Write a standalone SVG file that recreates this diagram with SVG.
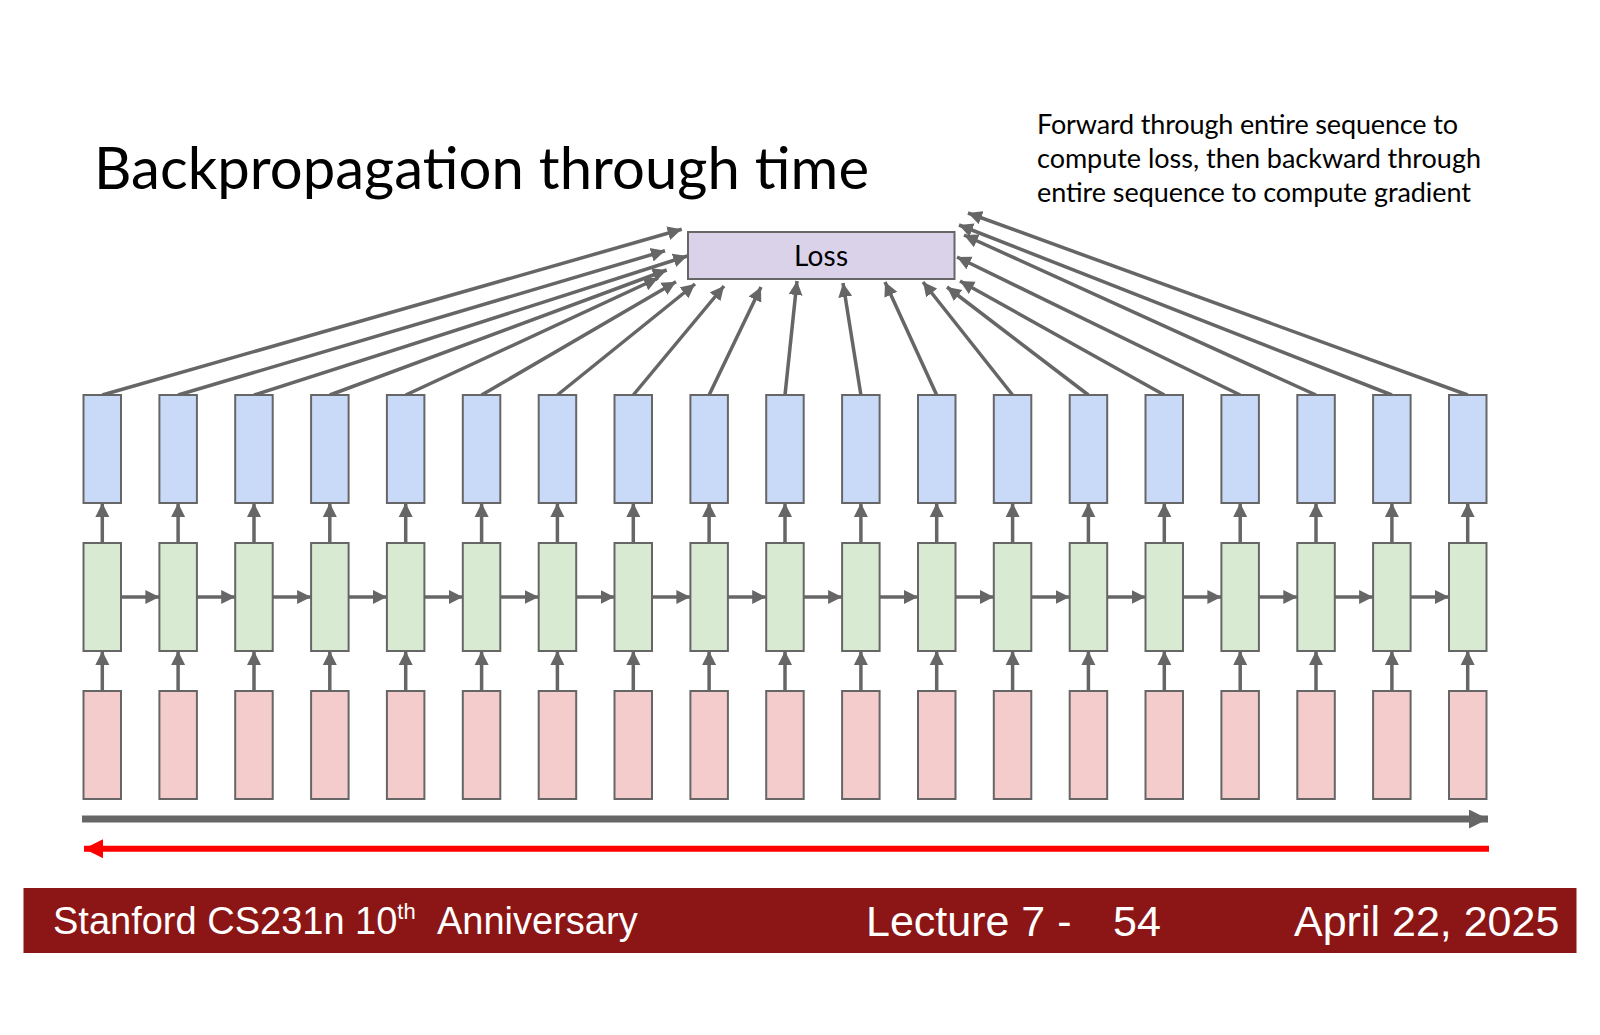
<svg xmlns="http://www.w3.org/2000/svg" width="1600" height="1035" viewBox="0 0 1600 1035">
<style>
.b{fill:#c9daf8;stroke:#666;stroke-width:2}
.g{fill:#d9ead3;stroke:#666;stroke-width:2}
.r{fill:#f4cccc;stroke:#666;stroke-width:2}
#connectors line.c{stroke:#666;stroke-width:3.5;fill:none;marker-end:url(#ah)}
.ss{font-family:Lato,"Open Sans","Noto Sans",sans-serif;fill:#000}
.ft{font-family:"Liberation Sans",Arial,sans-serif;fill:#fff}
</style>
<defs>
<marker id="ah" markerUnits="userSpaceOnUse" markerWidth="15" markerHeight="15" refX="14" refY="7.5" orient="auto"><path d="M0,0.5 L14,7.5 L0,14.5 z" fill="#666"/></marker>
<marker id="big" markerUnits="userSpaceOnUse" markerWidth="20" markerHeight="20" refX="19" refY="9.5" orient="auto"><path d="M0,0 L19,9.5 L0,19 z" fill="#666"/></marker>
<marker id="bigr" markerUnits="userSpaceOnUse" markerWidth="20" markerHeight="20" refX="19" refY="9.5" orient="auto"><path d="M0,0 L19,9.5 L0,19 z" fill="#f00"/></marker>
</defs>
<rect width="1600" height="1035" fill="#fff"/>
<text class="ss" x="94" y="189" font-size="58" textLength="775">Backpropagation through time</text>
<text class="ss" font-size="27"><tspan x="1037" y="134" textLength="421">Forward through entire sequence to</tspan><tspan x="1037" y="168" textLength="444">compute loss, then backward through</tspan><tspan x="1037" y="202" textLength="434">entire sequence to compute gradient</tspan></text>

<g id="connectors">
<line class="c" x1="102.3" y1="395" x2="681.7" y2="229.3"/>
<line class="c" x1="178.1" y1="395" x2="665" y2="250.7"/>
<line class="c" x1="254" y1="395" x2="687.3" y2="256"/>
<line class="c" x1="329.8" y1="395" x2="666.7" y2="270"/>
<line class="c" x1="405.7" y1="395" x2="658" y2="278"/>
<line class="c" x1="481.6" y1="395" x2="676" y2="281.7"/>
<line class="c" x1="557.4" y1="395" x2="695" y2="284"/>
<line class="c" x1="633.3" y1="395" x2="724" y2="286"/>
<line class="c" x1="709.1" y1="395" x2="761" y2="287"/>
<line class="c" x1="785" y1="395" x2="797" y2="281"/>
<line class="c" x1="860.9" y1="395" x2="843" y2="283"/>
<line class="c" x1="936.7" y1="395" x2="885" y2="282"/>
<line class="c" x1="1012.6" y1="395" x2="923" y2="282"/>
<line class="c" x1="1088.4" y1="395" x2="947" y2="287"/>
<line class="c" x1="1164.3" y1="395" x2="960" y2="281"/>
<line class="c" x1="1240.2" y1="395" x2="957" y2="257"/>
<line class="c" x1="1316" y1="395" x2="964" y2="235"/>
<line class="c" x1="1391.9" y1="395" x2="959" y2="225"/>
<line class="c" x1="1467.7" y1="395" x2="968" y2="213"/>

<line class="c" x1="102.3" y1="691" x2="102.3" y2="651"/>
<line class="c" x1="178.1" y1="691" x2="178.1" y2="651"/>
<line class="c" x1="254" y1="691" x2="254" y2="651"/>
<line class="c" x1="329.8" y1="691" x2="329.8" y2="651"/>
<line class="c" x1="405.7" y1="691" x2="405.7" y2="651"/>
<line class="c" x1="481.6" y1="691" x2="481.6" y2="651"/>
<line class="c" x1="557.4" y1="691" x2="557.4" y2="651"/>
<line class="c" x1="633.3" y1="691" x2="633.3" y2="651"/>
<line class="c" x1="709.1" y1="691" x2="709.1" y2="651"/>
<line class="c" x1="785" y1="691" x2="785" y2="651"/>
<line class="c" x1="860.9" y1="691" x2="860.9" y2="651"/>
<line class="c" x1="936.7" y1="691" x2="936.7" y2="651"/>
<line class="c" x1="1012.6" y1="691" x2="1012.6" y2="651"/>
<line class="c" x1="1088.4" y1="691" x2="1088.4" y2="651"/>
<line class="c" x1="1164.3" y1="691" x2="1164.3" y2="651"/>
<line class="c" x1="1240.2" y1="691" x2="1240.2" y2="651"/>
<line class="c" x1="1316" y1="691" x2="1316" y2="651"/>
<line class="c" x1="1391.9" y1="691" x2="1391.9" y2="651"/>
<line class="c" x1="1467.7" y1="691" x2="1467.7" y2="651"/>

<line class="c" x1="102.3" y1="543" x2="102.3" y2="503"/>
<line class="c" x1="178.1" y1="543" x2="178.1" y2="503"/>
<line class="c" x1="254" y1="543" x2="254" y2="503"/>
<line class="c" x1="329.8" y1="543" x2="329.8" y2="503"/>
<line class="c" x1="405.7" y1="543" x2="405.7" y2="503"/>
<line class="c" x1="481.6" y1="543" x2="481.6" y2="503"/>
<line class="c" x1="557.4" y1="543" x2="557.4" y2="503"/>
<line class="c" x1="633.3" y1="543" x2="633.3" y2="503"/>
<line class="c" x1="709.1" y1="543" x2="709.1" y2="503"/>
<line class="c" x1="785" y1="543" x2="785" y2="503"/>
<line class="c" x1="860.9" y1="543" x2="860.9" y2="503"/>
<line class="c" x1="936.7" y1="543" x2="936.7" y2="503"/>
<line class="c" x1="1012.6" y1="543" x2="1012.6" y2="503"/>
<line class="c" x1="1088.4" y1="543" x2="1088.4" y2="503"/>
<line class="c" x1="1164.3" y1="543" x2="1164.3" y2="503"/>
<line class="c" x1="1240.2" y1="543" x2="1240.2" y2="503"/>
<line class="c" x1="1316" y1="543" x2="1316" y2="503"/>
<line class="c" x1="1391.9" y1="543" x2="1391.9" y2="503"/>
<line class="c" x1="1467.7" y1="543" x2="1467.7" y2="503"/>

<line class="c" x1="121" y1="597" x2="159.4" y2="597"/>
<line class="c" x1="196.9" y1="597" x2="235.2" y2="597"/>
<line class="c" x1="272.7" y1="597" x2="311.1" y2="597"/>
<line class="c" x1="348.6" y1="597" x2="386.9" y2="597"/>
<line class="c" x1="424.4" y1="597" x2="462.8" y2="597"/>
<line class="c" x1="500.3" y1="597" x2="538.7" y2="597"/>
<line class="c" x1="576.2" y1="597" x2="614.5" y2="597"/>
<line class="c" x1="652" y1="597" x2="690.4" y2="597"/>
<line class="c" x1="727.9" y1="597" x2="766.2" y2="597"/>
<line class="c" x1="803.7" y1="597" x2="842.1" y2="597"/>
<line class="c" x1="879.6" y1="597" x2="918" y2="597"/>
<line class="c" x1="955.5" y1="597" x2="993.8" y2="597"/>
<line class="c" x1="1031.3" y1="597" x2="1069.7" y2="597"/>
<line class="c" x1="1107.2" y1="597" x2="1145.5" y2="597"/>
<line class="c" x1="1183" y1="597" x2="1221.4" y2="597"/>
<line class="c" x1="1258.9" y1="597" x2="1297.3" y2="597"/>
<line class="c" x1="1334.8" y1="597" x2="1373.1" y2="597"/>
<line class="c" x1="1410.6" y1="597" x2="1449" y2="597"/>

<line x1="82" y1="819" x2="1488" y2="819" stroke="#666" stroke-width="7" marker-end="url(#big)"/>
<line x1="1489" y1="848.7" x2="84" y2="848.7" stroke="#f00" stroke-width="6" marker-end="url(#bigr)"/>
</g>

<g id="loss"><rect x="688" y="232" width="266.5" height="47" fill="#d9d2e9" stroke="#666" stroke-width="2"/><text class="ss" x="794" y="266" font-size="28" textLength="54">Loss</text></g>

<g id="outputs">
<rect id="y1" class="b" x="83.5" y="395" width="37.5" height="108"/>
<rect id="y2" class="b" x="159.4" y="395" width="37.5" height="108"/>
<rect id="y3" class="b" x="235.2" y="395" width="37.5" height="108"/>
<rect id="y4" class="b" x="311.1" y="395" width="37.5" height="108"/>
<rect id="y5" class="b" x="386.9" y="395" width="37.5" height="108"/>
<rect id="y6" class="b" x="462.8" y="395" width="37.5" height="108"/>
<rect id="y7" class="b" x="538.7" y="395" width="37.5" height="108"/>
<rect id="y8" class="b" x="614.5" y="395" width="37.5" height="108"/>
<rect id="y9" class="b" x="690.4" y="395" width="37.5" height="108"/>
<rect id="y10" class="b" x="766.2" y="395" width="37.5" height="108"/>
<rect id="y11" class="b" x="842.1" y="395" width="37.5" height="108"/>
<rect id="y12" class="b" x="918" y="395" width="37.5" height="108"/>
<rect id="y13" class="b" x="993.8" y="395" width="37.5" height="108"/>
<rect id="y14" class="b" x="1069.7" y="395" width="37.5" height="108"/>
<rect id="y15" class="b" x="1145.5" y="395" width="37.5" height="108"/>
<rect id="y16" class="b" x="1221.4" y="395" width="37.5" height="108"/>
<rect id="y17" class="b" x="1297.3" y="395" width="37.5" height="108"/>
<rect id="y18" class="b" x="1373.1" y="395" width="37.5" height="108"/>
<rect id="y19" class="b" x="1449" y="395" width="37.5" height="108"/>
</g>
<g id="hidden">
<rect id="h1" class="g" x="83.5" y="543" width="37.5" height="108"/>
<rect id="h2" class="g" x="159.4" y="543" width="37.5" height="108"/>
<rect id="h3" class="g" x="235.2" y="543" width="37.5" height="108"/>
<rect id="h4" class="g" x="311.1" y="543" width="37.5" height="108"/>
<rect id="h5" class="g" x="386.9" y="543" width="37.5" height="108"/>
<rect id="h6" class="g" x="462.8" y="543" width="37.5" height="108"/>
<rect id="h7" class="g" x="538.7" y="543" width="37.5" height="108"/>
<rect id="h8" class="g" x="614.5" y="543" width="37.5" height="108"/>
<rect id="h9" class="g" x="690.4" y="543" width="37.5" height="108"/>
<rect id="h10" class="g" x="766.2" y="543" width="37.5" height="108"/>
<rect id="h11" class="g" x="842.1" y="543" width="37.5" height="108"/>
<rect id="h12" class="g" x="918" y="543" width="37.5" height="108"/>
<rect id="h13" class="g" x="993.8" y="543" width="37.5" height="108"/>
<rect id="h14" class="g" x="1069.7" y="543" width="37.5" height="108"/>
<rect id="h15" class="g" x="1145.5" y="543" width="37.5" height="108"/>
<rect id="h16" class="g" x="1221.4" y="543" width="37.5" height="108"/>
<rect id="h17" class="g" x="1297.3" y="543" width="37.5" height="108"/>
<rect id="h18" class="g" x="1373.1" y="543" width="37.5" height="108"/>
<rect id="h19" class="g" x="1449" y="543" width="37.5" height="108"/>
</g>
<g id="inputs">
<rect id="x1" class="r" x="83.5" y="691" width="37.5" height="108"/>
<rect id="x2" class="r" x="159.4" y="691" width="37.5" height="108"/>
<rect id="x3" class="r" x="235.2" y="691" width="37.5" height="108"/>
<rect id="x4" class="r" x="311.1" y="691" width="37.5" height="108"/>
<rect id="x5" class="r" x="386.9" y="691" width="37.5" height="108"/>
<rect id="x6" class="r" x="462.8" y="691" width="37.5" height="108"/>
<rect id="x7" class="r" x="538.7" y="691" width="37.5" height="108"/>
<rect id="x8" class="r" x="614.5" y="691" width="37.5" height="108"/>
<rect id="x9" class="r" x="690.4" y="691" width="37.5" height="108"/>
<rect id="x10" class="r" x="766.2" y="691" width="37.5" height="108"/>
<rect id="x11" class="r" x="842.1" y="691" width="37.5" height="108"/>
<rect id="x12" class="r" x="918" y="691" width="37.5" height="108"/>
<rect id="x13" class="r" x="993.8" y="691" width="37.5" height="108"/>
<rect id="x14" class="r" x="1069.7" y="691" width="37.5" height="108"/>
<rect id="x15" class="r" x="1145.5" y="691" width="37.5" height="108"/>
<rect id="x16" class="r" x="1221.4" y="691" width="37.5" height="108"/>
<rect id="x17" class="r" x="1297.3" y="691" width="37.5" height="108"/>
<rect id="x18" class="r" x="1373.1" y="691" width="37.5" height="108"/>
<rect id="x19" class="r" x="1449" y="691" width="37.5" height="108"/>
</g>

<g id="footer">
<rect x="23.5" y="888" width="1553" height="65" fill="#8c1515"/>
<text class="ft" x="53" y="934" font-size="38">Stanford CS231n 10<tspan font-size="22" dy="-15">th</tspan><tspan dy="15" x="437">Anniversary</tspan></text>
<text class="ft" x="866" y="936" font-size="43">Lecture 7 -</text>
<text class="ft" x="1113" y="936" font-size="43">54</text>
<text class="ft" x="1294" y="936" font-size="43">April 22, 2025</text>
</g>
</svg>
